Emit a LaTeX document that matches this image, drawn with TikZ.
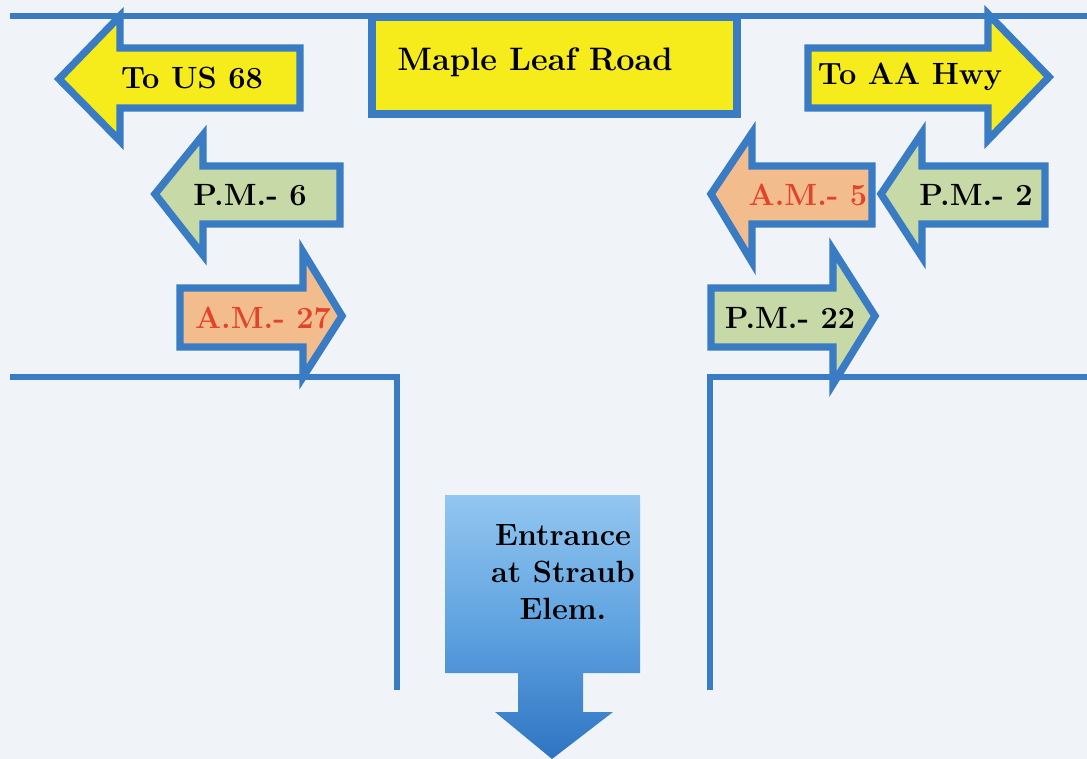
\documentclass[tikz,border=0pt]{standalone}
\definecolor{roadblue}{HTML}{3A7CC4}
\definecolor{signyellow}{HTML}{F6EC1C}
\definecolor{pmgreen}{HTML}{C6D9A6}
\definecolor{amorange}{HTML}{F2BC8C}
\definecolor{amred}{HTML}{E2432A}
\definecolor{paper}{HTML}{F0F4F9}
\definecolor{gatetop}{HTML}{93C6F0}
\definecolor{gatemid}{HTML}{5FA3E0}
\definecolor{gatebot}{HTML}{2E74C2}

\begin{document}
\begin{tikzpicture}[x=0.02cm,y=-0.02cm,
  road/.style={line width=3.8pt, color=roadblue},
  sign/.style={line width=4.2pt, draw=roadblue, line join=miter},
  lbl/.style={font=\bfseries\fontsize{17.5}{21}\selectfont}]
\useasboundingbox[fill=paper] (0,0) rectangle (1087,759);

% roads
\draw[road] (10,16) -- (1087,16);
\draw[road] (10,377) -- (397,377) -- (397,690);
\draw[road] (710,690) -- (710,377) -- (1087,377);

% street name
\draw[sign, fill=signyellow] (372,17) rectangle (737,114);
\node[lbl, font=\bfseries\fontsize{18.5}{22}\selectfont] (maple) at (535,62) {Maple Leaf Road};

% directions
\draw[sign, fill=signyellow] (300,48) -- (120,48) -- (120,16) -- (59,79)
      -- (120,141) -- (120,108) -- (300,108) -- cycle;
\node[lbl] (us68) at (192,78) {To US 68};
\draw[sign, fill=signyellow] (808,48) -- (988,48) -- (988,14) -- (1049,77)
      -- (988,140) -- (988,108) -- (808,108) -- cycle;
\node[lbl] (aahwy) at (910,77) {To AA Hwy};

% left side counts
\draw[sign, fill=pmgreen] (340,166) -- (203,166) -- (203,135) -- (155,194)
      -- (203,255) -- (203,224) -- (340,224) -- cycle;
\node[lbl] (pmsix) at (250,195) {P.M.- 6};
\draw[sign, fill=amorange] (180,288) -- (303,288) -- (303,252) -- (342,316)
      -- (303,377) -- (303,347) -- (180,347) -- cycle;
\node[lbl, text=amred] (amtwentyseven) at (263,318) {A.M.- 27};

% right side counts
\draw[sign, fill=amorange] (872,166) -- (752,166) -- (752,133) -- (711,194)
      -- (752,262) -- (752,224) -- (872,224) -- cycle;
\node[lbl, text=amred] (amfive) at (808,195) {A.M.- 5};
\draw[sign, fill=pmgreen] (1045,166) -- (922,166) -- (922,133) -- (881,194)
      -- (922,257) -- (922,224) -- (1045,224) -- cycle;
\node[lbl] (pmtwo) at (976,195) {P.M.- 2};
\draw[sign, fill=pmgreen] (711,288) -- (833,288) -- (833,250) -- (875,316)
      -- (833,384) -- (833,347) -- (711,347) -- cycle;
\node[lbl] (pmtwentytwo) at (790,318) {P.M.- 22};

% entrance
\shade[top color=gatetop, bottom color=gatebot, middle color=gatemid]
  (445,495) -- (640,495) -- (640,673) -- (583,673) -- (583,712) -- (613,712)
  -- (552,759) -- (495,712) -- (518,712) -- (518,673) -- (445,673) -- cycle;
\node[lbl, align=center] (entrance) at (563,572) {Entrance\\at Straub\\Elem.};
\end{tikzpicture}
\end{document}
